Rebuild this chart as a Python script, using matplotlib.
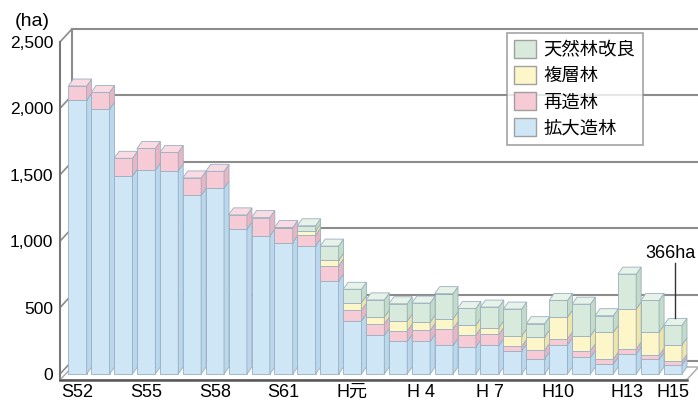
import matplotlib.pyplot as plt
from matplotlib.patches import Polygon, Patch

plt.rcParams['font.family'] = ['Liberation Sans', 'Noto Sans CJK JP', 'DejaVu Sans']

# fiscal years S52..S63, H元..H15
years = ['S52', 'S53', 'S54', 'S55', 'S56', 'S57', 'S58', 'S59', 'S60', 'S61', 'S62', 'S63',
         'H元', 'H2', 'H3', 'H 4', 'H5', 'H6', 'H 7', 'H8', 'H9', 'H10', 'H11', 'H12', 'H13',
         'H14', 'H15']
shown_labels = ['S52', 'S55', 'S58', 'S61', 'H元', 'H 4', 'H 7', 'H10', 'H13', 'H15']

kakudai = [2060, 1995, 1490, 1535, 1530, 1345, 1400, 1090, 1040, 990, 965, 700,
           400, 290, 245, 245, 215, 205, 215, 175, 115, 220, 125, 75, 150, 110, 70]
saizou = [108, 125, 134, 163, 138, 131, 126, 108, 138, 113, 81, 113,
          80, 88, 78, 83, 126, 88, 83, 33, 63, 45, 50, 37, 38, 30, 25]
fukusou = [0, 0, 0, 0, 0, 0, 0, 0, 0, 0, 32, 43,
           57, 50, 75, 63, 75, 75, 51, 80, 101, 163, 113, 201, 301, 175, 125]
tennen = [0, 0, 0, 0, 0, 0, 0, 0, 0, 0, 38, 107,
          101, 130, 131, 143, 189, 126, 155, 201, 100, 126, 238, 126, 263, 239, 146]

series = [kakudai, saizou, fukusou, tennen]
names = ['拡大造林', '再造林', '複層林', '天然林改良']
# front, side, top
colors = [('#cfe6f7', '#b9d7ed', '#e2f0fa'),
          ('#f7cbd6', '#eab5c3', '#fadbe3'),
          ('#fdf6c8', '#efe5a8', '#fefae0'),
          ('#d8eadb', '#c2dcc7', '#e7f2e9')]
edge = '#9aafbf'

fig = plt.figure(figsize=(6.98, 4.05), dpi=100)
ax = fig.add_axes([60 / 698, 25 / 405, 638 / 698, 358 / 405])
x0, x1 = -0.764, 27.1
ax.set_xlim(x0, x1)
ax.set_ylim(-45, 2650)
for s in ax.spines.values():
    s.set_visible(False)

px = (x1 - x0) / 638.0       # data units per pixel (x)
py = 2695 / 358.0            # data units per pixel (y)
dxw, dyw = 12 * px, 13 * py  # wall depth
ddx, ddy = 5 * px, 7 * py    # bar depth
w = 0.80

# back wall grid
for v in range(0, 2501, 500):
    ax.plot([x0 + dxw, x1], [v + dyw, v + dyw], color='#8c8c8c', lw=1.5, zorder=1)
    ax.plot([x0, x0 + dxw], [v, v + dyw], color='#8c8c8c', lw=1.2, zorder=1, clip_on=False)
ax.plot([x0, x0], [-45, 2500], color='#777777', lw=1.5, zorder=1, clip_on=False)
ax.plot([x0 + dxw, x0 + dxw], [-45 + dyw, 2500 + dyw], color='#8c8c8c', lw=1.5, zorder=1)

# floor
xf = 26.6
ax.add_patch(Polygon([(x0, -45), (xf, -45), (xf + dxw, -45 + dyw), (x0 + dxw, -45 + dyw)],
                     closed=True, facecolor='white', edgecolor='#aaaaaa', lw=1.0, zorder=1,
                     clip_on=False))
ax.plot([x0, xf], [-45, -45], color='#555555', lw=1.8, zorder=2, clip_on=False)

# 3d-ish stacked bars
for i in range(len(years)):
    bottom = 0
    top_idx = max(k for k in range(4) if series[k][i] > 0)
    for k in range(4):
        h = series[k][i]
        if h <= 0:
            continue
        front, side, topc = colors[k]
        z = 3 + i * 0.01
        ax.bar(i, h, bottom=bottom, width=w, color=front, edgecolor=edge, lw=0.6, zorder=z)
        xr = i + w / 2
        ax.add_patch(Polygon([(xr, bottom), (xr + ddx, bottom + ddy), (xr + ddx, bottom + h + ddy),
                              (xr, bottom + h)], closed=True, facecolor=side, edgecolor=edge,
                             lw=0.6, zorder=z))
        if k == top_idx:
            t = bottom + h
            xl = i - w / 2
            ax.add_patch(Polygon([(xl, t), (xl + ddx, t + ddy), (xr + ddx, t + ddy), (xr, t)],
                                 closed=True, facecolor=topc, edgecolor=edge, lw=0.6, zorder=z))
        bottom += h

# ticks
ax.set_yticks(range(0, 2501, 500), ['0', '500', '1,000', '1,500', '2,000', '2,500'])
pos = [years.index(l) for l in shown_labels]
ax.set_xticks(pos, shown_labels)
ax.tick_params(axis='y', length=0, pad=5, labelsize=12.5)
ax.tick_params(axis='x', length=0, pad=3, labelsize=13)

fig.text(32 / 698, 1 - 22 / 405, '(ha)', ha='center', va='center', fontsize=14)

# total label for last year
last = len(years) - 1
total_last = sum(s[last] for s in series)
ax.plot([last + 0.1, last + 0.1], [total_last + ddy, total_last + 470], color='#333333',
        lw=1.0, zorder=6)
ax.text(last - 0.12, total_last + 540, f'{total_last}ha', ha='center', va='center',
        fontsize=13, zorder=6, clip_on=False)

handles = [Patch(facecolor=colors[k][0], edgecolor='#a0a0a0', lw=1.0) for k in range(4)]
leg = ax.legend(handles[::-1], names[::-1], loc='upper left',
                bbox_to_anchor=(507 / 698, 1 - 33 / 405), bbox_transform=fig.transFigure,
                prop={'family': 'Noto Sans CJK JP', 'size': 13.2}, frameon=True, fancybox=False,
                handlelength=1.2, handleheight=1.1, handletextpad=0.4, labelspacing=0.38,
                borderpad=0.4, borderaxespad=0)
leg.get_frame().set_edgecolor('#8c8c8c')
leg.get_frame().set_linewidth(1.2)
leg.set_zorder(10)

fig.savefig('out.png', dpi=100)
